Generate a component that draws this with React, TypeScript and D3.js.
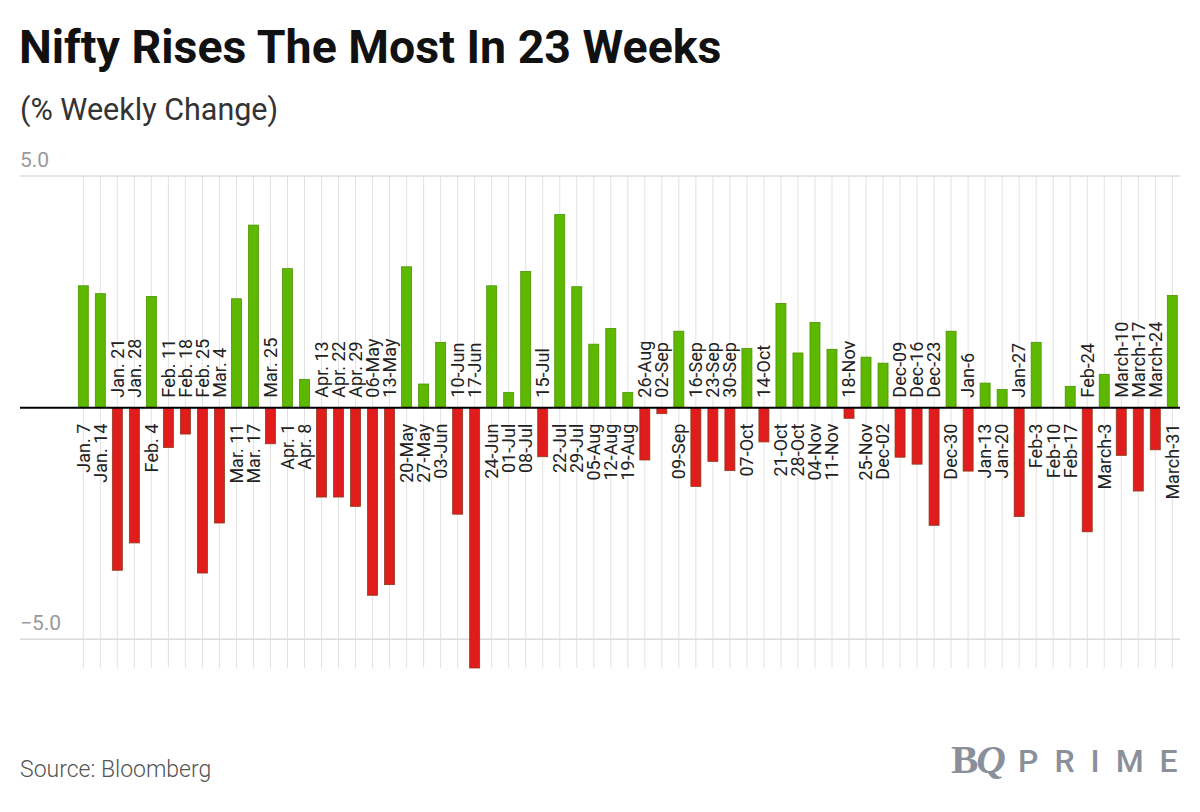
import React from "react";
import * as d3 from "d3";

// weekly Nifty change, Jan 2022 - Mar 2023
const weeks = [
  "Jan. 7", "Jan. 14", "Jan. 21", "Jan. 28", "Feb. 4", "Feb. 11", "Feb. 18", "Feb. 25",
  "Mar. 4", "Mar. 11", "Mar. 17", "Mar. 25", "Apr. 1", "Apr. 8", "Apr. 13", "Apr. 22",
  "Apr. 29", "06-May", "13-May", "20-May", "27-May", "03-Jun", "10-Jun", "17-Jun",
  "24-Jun", "01-Jul", "08-Jul", "15-Jul", "22-Jul", "29-Jul", "05-Aug", "12-Aug",
  "19-Aug", "26-Aug", "02-Sep", "09-Sep", "16-Sep", "23-Sep", "30-Sep", "07-Oct",
  "14-Oct", "21-Oct", "28-Oct", "04-Nov", "11-Nov", "18-Nov", "25-Nov", "Dec-02",
  "Dec-09", "Dec-16", "Dec-23", "Dec-30", "Jan-6", "Jan-13", "Jan-20", "Jan-27",
  "Feb-3", "Feb-10", "Feb-17", "Feb-24", "March-3", "March-10", "March-17", "March-24",
  "March-31",
];

const changes = [
  2.63, 2.46, -3.51, -2.92, 2.4, -0.86, -0.57, -3.57,
  -2.49, 2.35, 3.94, -0.78, 3.0, 0.61, -1.93, -1.93,
  -2.13, -4.05, -3.82, 3.04, 0.51, 1.41, -2.3, -5.62,
  2.63, 0.33, 2.94, -1.06, 4.17, 2.61, 1.37, 1.71,
  0.33, -1.13, -0.13, 1.65, -1.7, -1.16, -1.36, 1.28,
  -0.74, 2.25, 1.18, 1.84, 1.26, -0.23, 1.09, 0.96,
  -1.07, -1.22, -2.54, 1.65, -1.37, 0.53, 0.39, -2.35,
  1.41, 0, 0.46, -2.68, 0.72, -1.03, -1.8, -0.91,
  2.42,
];

const yTicks = [5, -5];

const width = 1200;
const height = 812;

export default function App() {
  const data = weeks.map((week, i) => ({ week, value: changes[i] }));

  const x = d3.scalePoint<string>().domain(weeks).range([83.3, 1172.3]);
  const y = d3
    .scaleLinear()
    .domain([d3.min(changes)!, 5])
    .range([668, 176]);

  const barW = 10;
  const y0 = y(0);
  const font = "Roboto, 'Noto Sans', sans-serif";

  return (
    <div style={{ position: "absolute", left: 0, top: 0 }}>
      <svg width={width} height={height} style={{ display: "block", background: "#fff" }}>
        <text x={19} y={63} fontFamily={font} fontWeight={700} fontSize={46.5} fill="#111">
          Nifty Rises The Most In 23 Weeks
        </text>
        <text x={20} y={120} fontFamily={font} fontSize={30.5} fill="#333">
          (% Weekly Change)
        </text>

        {/* vertical grid at each week */}
        {weeks.map(w => (
          <line key={w} x1={x(w)} x2={x(w)} y1={y(5)} y2={y.range()[0]} stroke="#e2e2e2" strokeWidth={1} />
        ))}

        {yTicks.map(t => (
          <g key={t}>
            <line x1={20} x2={1180} y1={y(t)} y2={y(t)} stroke="#dcdcdc" strokeWidth={1.5} />
            <text x={20} y={y(t) - 9} fontFamily={font} fontSize={21} fill="#9a9a9a">
              {t > 0 ? t.toFixed(1) : "\u2212" + Math.abs(t).toFixed(1)}
            </text>
          </g>
        ))}

        {data.map(d => {
          const cx = x(d.week)!;
          const pos = d.value >= 0;
          return (
            <rect
              key={d.week}
              x={cx - barW / 2}
              y={pos ? y(d.value) : y0}
              width={barW}
              height={Math.abs(y(d.value) - y0)}
              fill={pos ? "#5cb800" : "#e01c1c"}
              stroke={pos ? "#4e9400" : "#8e3a1a"}
              strokeWidth={0.8}
            />
          );
        })}

        <line x1={20} x2={1180} y1={y0} y2={y0} stroke="#000" strokeWidth={2} />

        {data.map(d => {
          const cx = x(d.week)!;
          const pos = d.value >= 0;
          const ly = pos ? y0 + 16 : y0 - 10;
          return (
            <text
              key={d.week}
              transform={`translate(${cx},${ly}) rotate(-90)`}
              textAnchor={pos ? "end" : "start"}
              dy="0.35em"
              fontFamily={font}
              fontSize={18}
              fill="#222"
            >
              {d.week}
            </text>
          );
        })}

        <text x={20} y={777} fontFamily={font} fontWeight={300} fontSize={23} fill="#555">
          Source: Bloomberg
        </text>

        <text x={951} y={773} fontFamily="'Liberation Serif', serif" fontWeight={700} fontSize={41} fill="#8a9099" letterSpacing={-2}>
          B<tspan fontStyle="italic">Q</tspan>
        </text>
        <text x={1018} y={772} fontFamily={font} fontWeight={500} fontSize={32} fill="#8a9099" letterSpacing={16}>
          PRIME
        </text>
      </svg>
    </div>
  );
}
